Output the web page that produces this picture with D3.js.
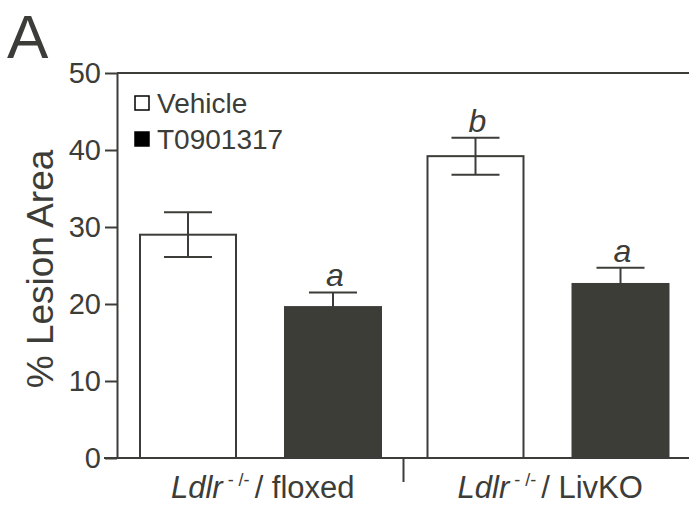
<!DOCTYPE html>
<html><head><meta charset="utf-8">
<script src="https://cdn.jsdelivr.net/npm/d3@7"></script>
<style>body{margin:0;background:#fff}svg{display:block;font-family:"Liberation Sans",Arial,sans-serif}</style>
</head><body>
<script>
const groups = ["floxed", "LivKO"];
const treatments = ["Vehicle", "T0901317"];
const means = [[29.0, 19.6], [39.2, 22.6]];
const errors = [[2.9, 1.9], [2.4, 2.1]];
const letters = [["", "a"], ["b", "a"]];
const yTicks = [0, 10, 20, 30, 40, 50];

const W = 689, H = 507;
const ink = "#3c3c38";
const svg = d3.select("body").append("svg").attr("width", W).attr("height", H);

const y = d3.scaleLinear().domain([0, 50]).range([458, 73]);
const x0 = d3.scaleBand().domain(groups).range([117, 692]).padding(0);
const x1 = d3.scaleBand().domain(treatments).range([23, 264]).paddingInner(0.338).paddingOuter(0);
const fill = d3.scaleOrdinal().domain(treatments).range(["#ffffff", "#3d3d38"]);

// panel letter
svg.append("text").attr("x", 7).attr("y", 58).attr("font-size", 62).attr("fill", ink).text("A");

// top frame line
svg.append("line").attr("x1", 117).attr("x2", W).attr("y1", y(50)).attr("y2", y(50)).attr("stroke", ink).attr("stroke-width", 2);

// y axis
const yAxis = svg.append("g").attr("transform", "translate(117,0)")
  .call(d3.axisLeft(y).tickValues(yTicks).tickSize(12).tickSizeOuter(0).tickPadding(4));
yAxis.select(".domain").attr("stroke", ink).attr("stroke-width", 2);
yAxis.selectAll(".tick line").attr("stroke", ink).attr("stroke-width", 2);
yAxis.selectAll(".tick text").attr("font-size", 29).attr("fill", ink).attr("font-family", "Liberation Sans, Arial, sans-serif");

// y title
svg.append("text").attr("transform", "translate(53,269) rotate(-90)").attr("text-anchor", "middle")
  .attr("font-size", 37).attr("fill", ink).text("% Lesion Area");

// bars
groups.forEach((g, gi) => {
  treatments.forEach((t, ti) => {
    const bx = x0(g) + x1(t), bw = x1.bandwidth();
    const v = means[gi][ti], e = errors[gi][ti];
    const cx = bx + bw / 2;
    svg.append("line").attr("x1", cx).attr("x2", cx).attr("y1", y(v + e)).attr("y2", y(v))
      .attr("stroke", ink).attr("stroke-width", 2);
    svg.append("line").attr("x1", cx - 24).attr("x2", cx + 24).attr("y1", y(v + e)).attr("y2", y(v + e))
      .attr("stroke", ink).attr("stroke-width", 2);
    svg.append("rect").attr("x", bx).attr("y", y(v)).attr("width", bw).attr("height", y(0) - y(v))
      .attr("fill", fill(t)).attr("stroke", ink).attr("stroke-width", 2);
    if (ti === 0) {
      svg.append("line").attr("x1", cx - 24).attr("x2", cx + 24).attr("y1", y(v - e)).attr("y2", y(v - e))
        .attr("stroke", ink).attr("stroke-width", 2);
      svg.append("line").attr("x1", cx).attr("x2", cx).attr("y1", y(v)).attr("y2", y(v - e))
        .attr("stroke", ink).attr("stroke-width", 2);
    }
    if (letters[gi][ti]) {
      svg.append("text").attr("x", cx + 2).attr("y", y(v + e) - 6).attr("text-anchor", "middle")
        .attr("font-size", 32).attr("font-style", "italic").attr("fill", ink).text(letters[gi][ti]);
    }
  });
});

// bottom axis line
svg.append("line").attr("x1", 104).attr("x2", W).attr("y1", y(0)).attr("y2", y(0)).attr("stroke", ink).attr("stroke-width", 2);
// group divider tick
svg.append("line").attr("x1", x0("LivKO") - 1).attr("x2", x0("LivKO") - 1).attr("y1", y(0)).attr("y2", y(0) + 24).attr("stroke", ink).attr("stroke-width", 2);

// x labels
groups.forEach(g => {
  const t = svg.append("text").attr("x", x0(g) + x0.bandwidth() / 2 + 2).attr("y", 498).attr("text-anchor", "middle")
    .attr("font-size", 31).attr("fill", ink);
  t.append("tspan").attr("font-style", "italic").text("Ldlr");
  t.append("tspan").attr("font-size", 18).attr("dy", -12).text(" - /- ");
  t.append("tspan").attr("dy", 12).text("/ " + g);
});

// legend
treatments.forEach((t, i) => {
  const ly = 96 + i * 36;
  svg.append("rect").attr("x", 135).attr("y", ly).attr("width", 14).attr("height", 14)
    .attr("fill", i === 0 ? "#fff" : "#000").attr("stroke", "#000").attr("stroke-width", 1.5);
  svg.append("text").attr("x", 157).attr("y", ly + 17).attr("font-size", 28).attr("fill", ink).text(t);
});
</script>
</body></html>
